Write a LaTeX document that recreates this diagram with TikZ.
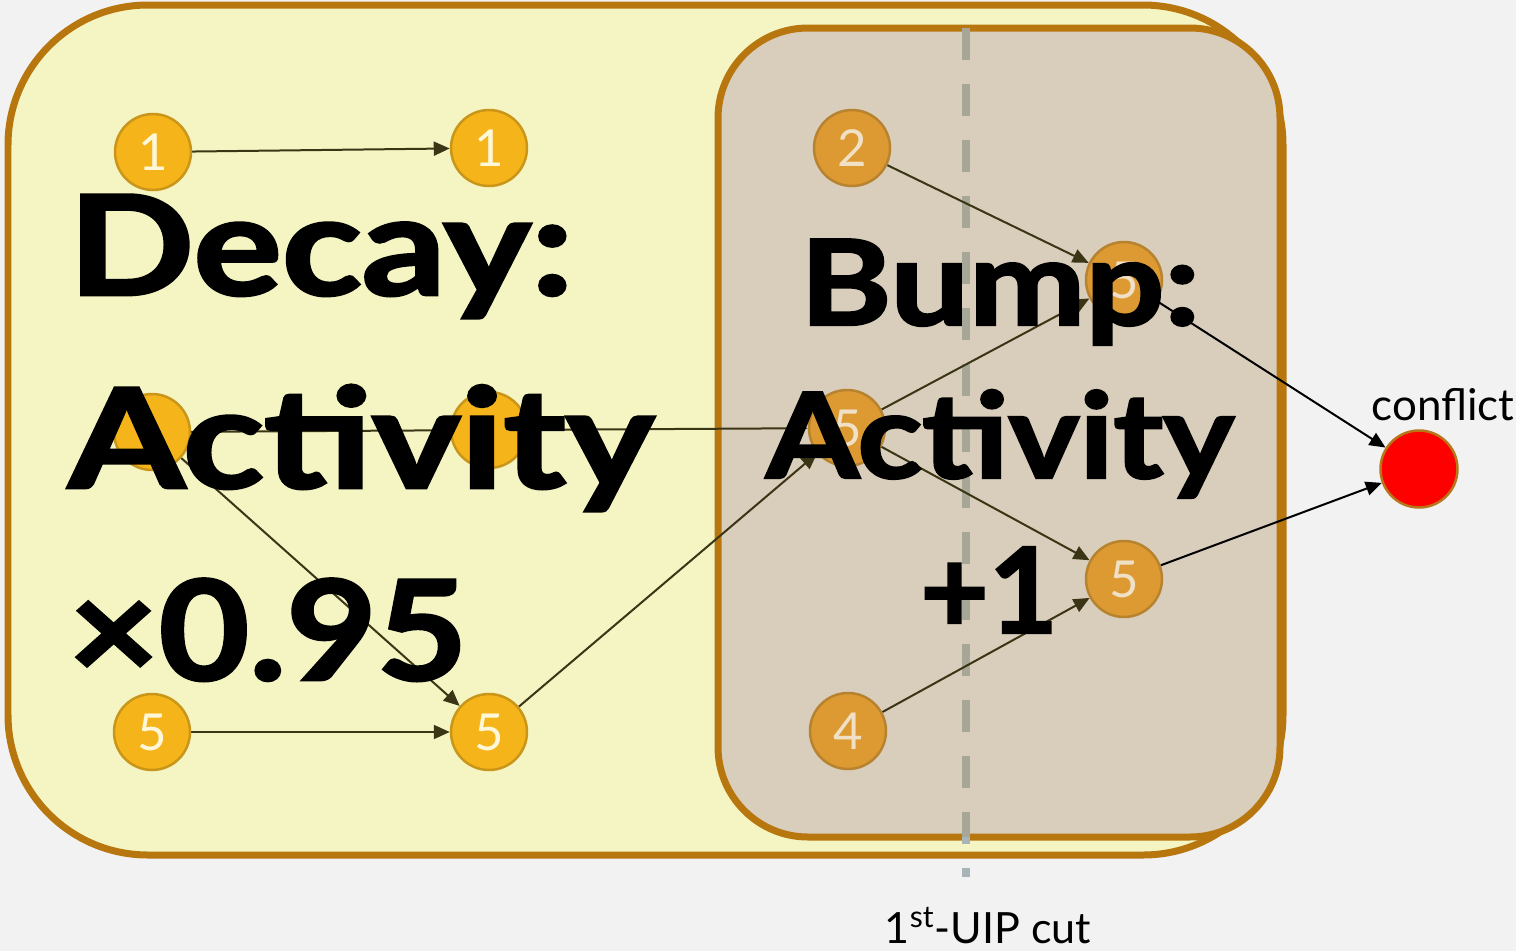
\documentclass[tikz,border=0pt]{standalone}
\usepackage{fontspec}
\usepackage{graphicx}
\setmainfont{Lato}
\newfontfamily\heavy{Lato}[BoldFeatures={FakeBold=2}]
\usetikzlibrary{arrows.meta}
\definecolor{bgc}{HTML}{F2F2F2}
\definecolor{outerfill}{HTML}{F4F5C3}
\definecolor{innerfill}{HTML}{D9CDBB}
\definecolor{boxbd}{HTML}{B8760F}
\definecolor{ylfill}{HTML}{F5B419}
\definecolor{ylbd}{HTML}{C9961A}
\definecolor{yltext}{HTML}{FFF8D8}
\definecolor{orfill}{HTML}{DD9A33}
\definecolor{orbd}{HTML}{B7832E}
\definecolor{ortext}{HTML}{EFE0C6}
\definecolor{edgec}{HTML}{3A3515}
\definecolor{cutout}{HTML}{A9B4B9}
\definecolor{cutin}{HTML}{A6A796}
\definecolor{conflred}{HTML}{FF0000}
\definecolor{conflbd}{HTML}{B8761A}
\pgfdeclarelayer{back}
\pgfdeclarelayer{edgelayer}
\pgfsetlayers{back,edgelayer,main}
\begin{document}
\begin{tikzpicture}[x=0.02cm,y=-0.02cm,
  yel/.style={circle,draw=ylbd,fill=ylfill,line width=0.05cm,minimum size=1.52cm,inner sep=0pt,text=yltext,font=\fontsize{29}{29}\selectfont},
  org/.style={yel,draw=orbd,fill=orfill,text=ortext},
  lnk/.style={draw=edgec,line width=0.04cm,-{Triangle[length=0.32cm,width=0.28cm]}},
  clnk/.style={lnk,draw=black},
  region/.style={draw=boxbd,line width=0.14cm},
  cut/.style={line width=0.16cm,dash pattern=on 0.64cm off 0.48cm},
  bigd/.style={inner sep=0pt,anchor=base west,font=\heavy\bfseries\fontsize{79}{79}\selectfont},
  bigb/.style={inner sep=0pt,anchor=base,font=\heavy\bfseries\fontsize{67.5}{67.5}\selectfont},
]
\begin{pgfonlayer}{back}
\fill[bgc] (0,0) rectangle (1516,951);
\draw[region,fill=outerfill,rounded corners=2.8cm] (8,5) rectangle (1283,855);
\draw[region,fill=innerfill,rounded corners=1.8cm] (718,28) rectangle (1280,837);
\coordinate (cuttop) at (966,28);
\coordinate (cutbot) at (966,877);
\draw[cut,draw=cutout] (cuttop) -- (cutbot);
\begin{scope}
\clip[rounded corners=1.8cm] (718,28) rectangle (1280,837);
\draw[cut,draw=cutin] (cuttop) -- (cutbot);
\end{scope}
\end{pgfonlayer}
\useasboundingbox (0,0) rectangle (1516,951);
% nodes
\node[yel] (a) at (153,152) {1};
\node[yel] (b) at (489,148) {1};
\node[yel] (c) at (152,432) {};
\node[yel] (d) at (489,430) {};
\node[yel] (g) at (152,732) {5};
\node[yel] (f) at (489,732) {5};
\node[org] (h) at (852,148) {2};
\node[org] (i) at (1124,280) {5};
\node[org] (e) at (847,428) {5};
\node[org] (j) at (1124,579) {5};
\node[org] (k) at (848,731) {4};
\node[circle,draw=conflbd,fill=conflred,line width=0.05cm,minimum size=1.54cm,inner sep=0pt] (x) at (1419,469) {};
% edges
\begin{pgfonlayer}{edgelayer}
\path[lnk] (a) -- (b);
\path[lnk] (c) -- (e);
\path[lnk] (c) -- (f);
\path[lnk] (g) -- (f);
\path[lnk] (f) -- (e);
\path[lnk] (h) -- (i);
\path[lnk] (e) -- (i);
\path[lnk] (e) -- (j);
\path[lnk] (k) -- (j);
\path[clnk] (i) -- (x);
\path[clnk] (j) -- (x);
\end{pgfonlayer}
% labels
\node[font=\fontsize{25}{25}\selectfont,anchor=base] (clab) at (1443,420) {conflict};
\node[font=\fontsize{24.5}{24.5}\selectfont,anchor=base] (cutlab) at (988,943) {1\textsuperscript{st}-UIP cut};
% big texts
\node[bigd] (d1) at (68,295) {\resizebox{10.1cm}{\height}{Decay:}};
\node[bigd] (d2) at (68,488) {\resizebox{11.72cm}{\height}{Activity}};
\node[bigd] (d3) at (68,680) {\resizebox{7.98cm}{\height}{×0.95}};
\node[bigb] (b1) at (1000,325) {\resizebox{8.0cm}{\height}{Bump:}};
\node[bigb] (b2) at (1000,478) {\resizebox{9.36cm}{\height}{Activity}};
\node[bigb] (b3) at (989,633) {+1};
\end{tikzpicture}
\end{document}
